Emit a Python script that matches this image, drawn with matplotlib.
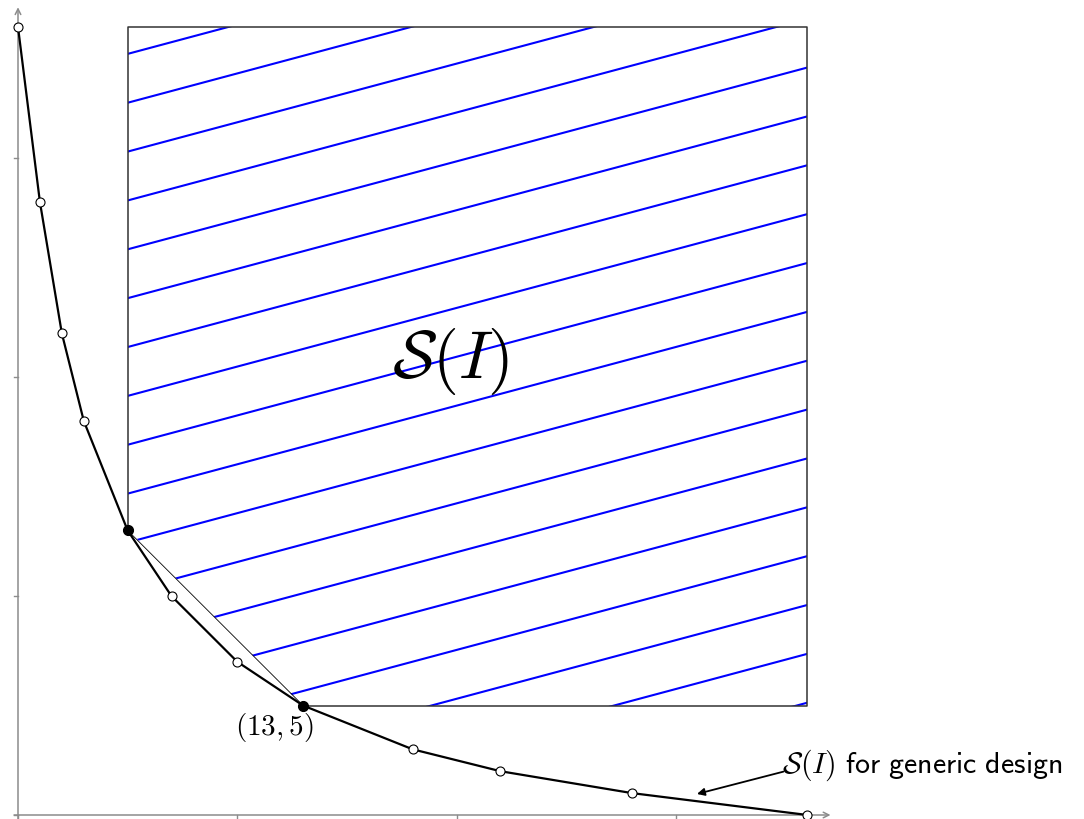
import numpy as np
import matplotlib.pyplot as plt
from matplotlib.patches import Polygon

plt.rcParams['mathtext.fontset'] = 'cm'

# pareto points of the generic design
xs = [0, 1, 2, 3, 5, 7, 10, 13, 18, 22, 28, 36]
ys = [36, 28, 22, 18, 13, 10, 7, 5, 3, 2, 1, 0]
# the two points that span S(I)
corner_x = [5, 13]
corner_y = [13, 5]
xticks = [0, 10, 20, 30]
yticks = [0, 10, 20, 30]
box_top = 36
box_right = 36

fig = plt.figure(figsize=(10.84, 8.2), dpi=100)
ax = fig.add_axes([0, 0, 1, 1])
ax.set_xlim(-18 / 21.93, 1066 / 21.93)
ax.set_ylim(-4 / 21.89, 816 / 21.89)
ax.axis('off')

gray = '#8c8c8c'
# axes with arrows
ax.annotate('', xy=(37.05, 0), xytext=(-0.18, 0),
            arrowprops=dict(arrowstyle='->', color=gray, lw=1.1, shrinkA=0, shrinkB=0))
ax.annotate('', xy=(0, 36.9), xytext=(0, -0.18),
            arrowprops=dict(arrowstyle='->', color=gray, lw=1.1, shrinkA=0, shrinkB=0))
for t in xticks:
    ax.plot([t, t], [0, -0.18], color=gray, lw=1.0)
for t in yticks:
    ax.plot([0, -0.18], [t, t], color=gray, lw=1.0)

# region S(I)
region = [(corner_x[0], corner_y[0]), (corner_x[0], box_top), (box_right, box_top),
          (box_right, corner_y[1]), (corner_x[1], corner_y[1])]
clip = Polygon(region, closed=True, facecolor='none', edgecolor='none')
ax.add_patch(clip)

# hatching at 15 degrees
slope = np.tan(np.radians(15))
hx = np.array([3, 38])
for c in 11.11 + 2.232 * np.arange(-8, 12):
    ln, = ax.plot(hx, c + slope * hx, color='#0000ff', lw=1.5, zorder=2)
    ln.set_clip_path(clip)

ax.plot([corner_x[0], corner_x[0], box_right, box_right, corner_x[1]],
        [corner_y[0], box_top, box_top, corner_y[1], corner_y[1]],
        color='#333333', lw=1.1, zorder=3)
ax.plot(corner_x, corner_y, color='black', lw=0.6, zorder=3)

# the generic-design curve
ax.plot(xs, ys, color='black', lw=1.6, zorder=4)
ax.plot(xs, ys, 'o', ms=6.5, mfc='white', mec='black', mew=0.8, zorder=5)
ax.plot(corner_x, corner_y, 'o', ms=7, mfc='black', mec='black', zorder=6)

ax.text(19.7, 20.75, r'$\mathcal{S}(I)$', fontsize=48, ha='center', va='center', zorder=7)
ax.text(11.67, 4.05, r'$(13,5)$', fontsize=21, ha='center', va='center', zorder=7)

ax.text(34.86, 2.3, r'$\mathcal{S}(I)$ $\mathsf{for\ generic\ design}$',
        fontsize=21.5, ha='left', va='center')
ax.annotate('', xy=(30.96, 0.96), xytext=(34.9, 1.98),
            arrowprops=dict(arrowstyle='-|>', color='black', lw=1.3,
                            mutation_scale=11, shrinkA=0, shrinkB=0))

fig.savefig('out.png', dpi=100)
